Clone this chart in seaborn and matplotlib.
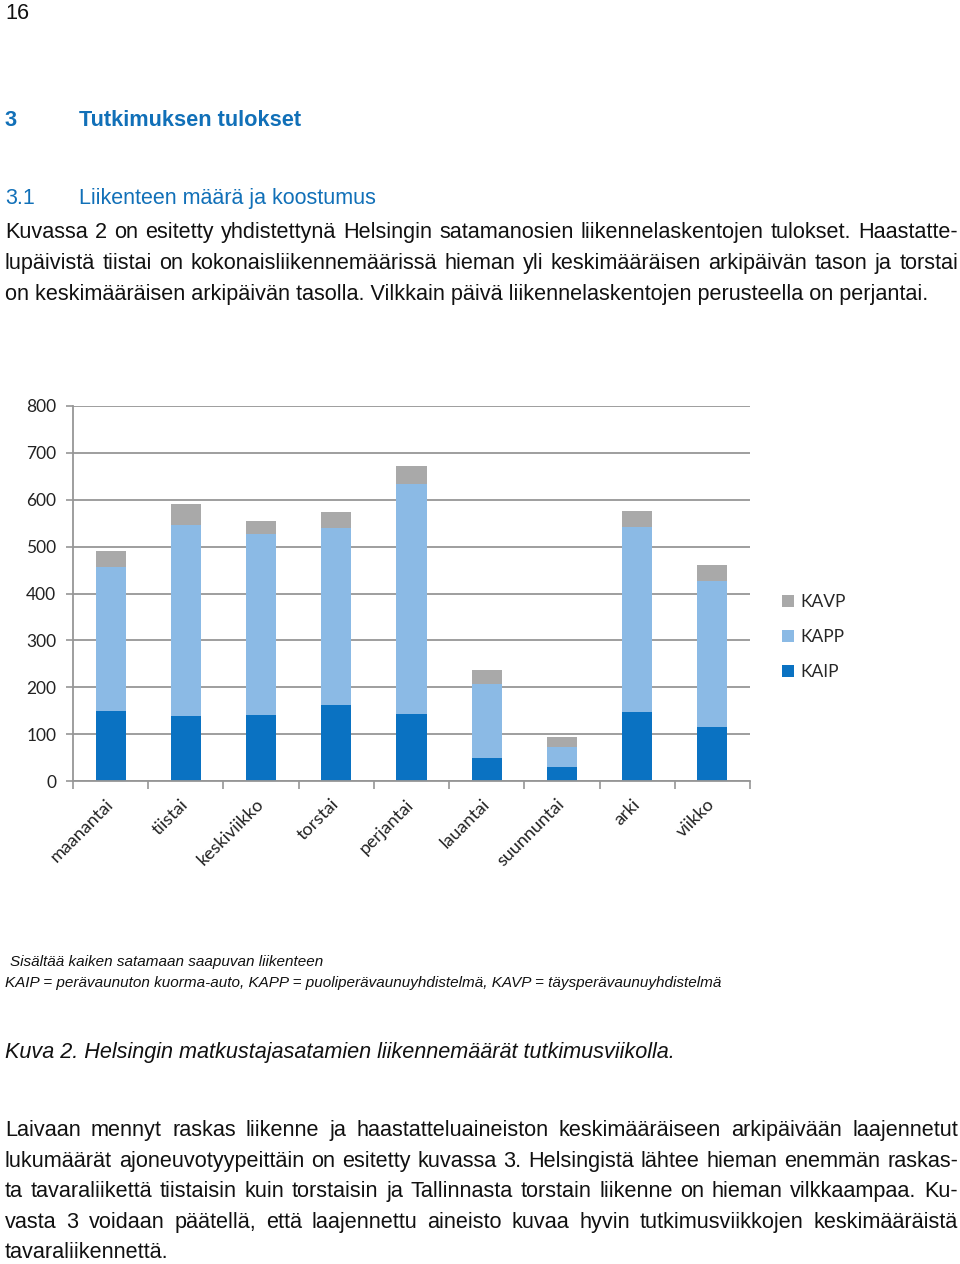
import numpy as np
import pandas as pd
import seaborn as sns
import matplotlib
matplotlib.use("Agg")
import matplotlib.pyplot as plt
from matplotlib.patches import Patch
from matplotlib.ticker import FixedLocator

# ---------------- data ----------------
categories = ["maanantai", "tiistai", "keskiviikko", "torstai", "perjantai",
              "lauantai", "suunnuntai", "arki", "viikko"]
kaip = [149, 138, 140, 163, 144, 50, 30, 147, 116]
kapp = [308, 409, 387, 376, 489, 157, 42, 394, 310]
kavp = [34, 43, 28, 34, 40, 29, 22, 36, 34]
yticks = [0, 100, 200, 300, 400, 500, 600, 700, 800]
legend_order = ["KAVP", "KAPP", "KAIP"]
colors = {"KAIP": "#0A72C2", "KAPP": "#8BBAE5", "KAVP": "#A9A9A9"}

# ---------------- page texts ----------------
page_number = "16"
heading_num = "3"
heading = "Tutkimuksen tulokset"
sub_num = "3.1"
subheading = "Liikenteen määrä ja koostumus"
para1 = [
    "Kuvassa 2 on esitetty yhdistettynä Helsingin satamanosien liikennelaskentojen tulokset. Haastatte-",
    "lupäivistä tiistai on kokonaisliikennemäärissä hieman yli keskimääräisen arkipäivän tason ja torstai",
    "on keskimääräisen arkipäivän tasolla. Vilkkain päivä liikennelaskentojen perusteella on perjantai.",
]
notes = [
    "Sisältää kaiken satamaan saapuvan liikenteen",
    "KAIP = perävaunuton kuorma-auto, KAPP = puoliperävaunuyhdistelmä, KAVP = täysperävaunuyhdistelmä",
]
caption = "Kuva 2. Helsingin matkustajasatamien liikennemäärät tutkimusviikolla."
para2 = [
    "Laivaan mennyt raskas liikenne ja haastatteluaineiston keskimääräiseen arkipäivään laajennetut",
    "lukumäärät ajoneuvotyypeittäin on esitetty kuvassa 3. Helsingistä lähtee hieman enemmän raskas-",
    "ta tavaraliikettä tiistaisin kuin torstaisin ja Tallinnasta torstain liikenne on hieman vilkkaampaa. Ku-",
    "vasta 3 voidaan päätellä, että laajennettu aineisto kuvaa hyvin tutkimusviikkojen keskimääräistä",
    "tavaraliikennettä.",
]

sns.set_theme(style="white")
plt.rcParams["font.family"] = ["Liberation Sans", "DejaVu Sans"]

W, H = 960, 1264
fig = plt.figure(figsize=(W / 100, H / 100), dpi=100)


def fx(x):
    return x / W


def fy(y):
    return 1 - y / H


renderer = fig.canvas.get_renderer()


def width_of(s, **kw):
    t = fig.text(0, 0, s, **kw)
    w = t.get_window_extent(renderer).width
    t.remove()
    return w


def fit_size(s, target, **kw):
    return 10 * target / width_of(s, fontsize=10, **kw)


def put_line(s, x0, x1, ybase, justify, **kw):
    if not justify:
        fig.text(fx(x0), fy(ybase), s, va="baseline", ha="left", **kw)
        return
    words = s.split(" ")
    ws = [width_of(w, **kw) for w in words]
    gap = (x1 - x0 - sum(ws)) / (len(words) - 1)
    x = x0
    for w, wd in zip(words, ws):
        fig.text(fx(x), fy(ybase), w, va="baseline", ha="left", **kw)
        x += wd + gap


text_col = "#111111"
blue = "#1170B8"

# ---------------- chart ----------------
ax = fig.add_axes([fx(73), fy(781), fx(750) - fx(73), fy(406) - fy(781)])
df = pd.DataFrame({"cat": categories, "KAIP": kaip, "KAPP": kapp, "KAVP": kavp})
df["lvl2"] = df["KAIP"] + df["KAPP"]
df["lvl3"] = df["lvl2"] + df["KAVP"]

for col, key in [("lvl3", "KAVP"), ("lvl2", "KAPP"), ("KAIP", "KAIP")]:
    sns.barplot(data=df, x="cat", y=col, order=categories, color=colors[key],
                saturation=1, width=0.4, linewidth=0, errorbar=None, ax=ax, zorder=3)

grid_col = "#969696"
ax.set_ylim(0, 800)
ax.set_xlim(-0.5, len(categories) - 0.5)
ax.set_yticks(yticks)
ax.set_axisbelow(True)
ax.yaxis.grid(True, color=grid_col, linewidth=1.3, zorder=0)
ax.xaxis.grid(False)
for s in ["top", "right"]:
    ax.spines[s].set_visible(False)
for s in ["left", "bottom"]:
    ax.spines[s].set_color(grid_col)
    ax.spines[s].set_linewidth(1.3)
    ax.spines[s].set_zorder(4)
ax.set_xlabel("")
ax.set_ylabel("")

ax.tick_params(axis="y", left=True, length=5, width=1.2, color=grid_col, pad=7,
               labelsize=12.5, labelcolor="#222222")
ax.set_xticks(range(len(categories)))
ax.set_xticklabels(categories, rotation=45, ha="right", va="center",
                   rotation_mode="anchor")
ax.xaxis.set_minor_locator(FixedLocator(np.arange(-0.5, len(categories), 1.0)))
ax.tick_params(axis="x", which="major", bottom=False, length=0, pad=15,
               labelsize=13, labelcolor="#222222")
ax.tick_params(axis="x", which="minor", bottom=True, length=6, width=1.2, color=grid_col)
for lbl in ax.get_xticklabels() + ax.get_yticklabels():
    lbl.set_fontfamily(["Lato", "DejaVu Sans"])

handles = [Patch(facecolor=colors[n], edgecolor="none", label=n) for n in legend_order]
fig.legend(handles=handles, loc="center left", bbox_to_anchor=(fx(782), fy(637)),
           frameon=False, handlelength=0.7, handleheight=0.7, handletextpad=0.35,
           labelspacing=1.1, borderpad=0, borderaxespad=0,
           prop={"family": ["Lato", "DejaVu Sans"], "size": 12.5})

# ---------------- page text ----------------
body_size = fit_size(para1[2], 926)
put_line(page_number, 5, 0, 19, False, fontsize=body_size, color=text_col)

h_size = fit_size(heading, 222, fontweight="bold")
fig.text(fx(5), fy(126), heading_num, va="baseline", fontsize=h_size, fontweight="bold", color=blue)
fig.text(fx(79), fy(126), heading, va="baseline", fontsize=h_size, fontweight="bold", color=blue)

s_size = fit_size(subheading, 299)
fig.text(fx(5), fy(204), sub_num, va="baseline", fontsize=s_size, color=blue)
fig.text(fx(79), fy(204), subheading, va="baseline", fontsize=s_size, color=blue)

for i, line in enumerate(para1):
    put_line(line, 5, 958, 238 + 31 * i, i < len(para1) - 1, fontsize=body_size, color=text_col)

note_fam = ["Liberation Sans Narrow", "Liberation Sans"]
n_size = fit_size(notes[1], 717, style="italic", family=note_fam)
put_line(notes[0], 10, 0, 966, False, fontsize=n_size, style="italic", family=note_fam, color=text_col)
put_line(notes[1], 5, 0, 987, False, fontsize=n_size, style="italic", family=note_fam, color=text_col)

c_size = fit_size(caption, 673, style="italic")
put_line(caption, 5, 0, 1058, False, fontsize=c_size, style="italic", color=text_col)

for i, line in enumerate(para2):
    put_line(line, 5, 958, 1136 + 30.6 * i, i < len(para2) - 1, fontsize=body_size, color=text_col)

fig.savefig("out.png", dpi=100)
